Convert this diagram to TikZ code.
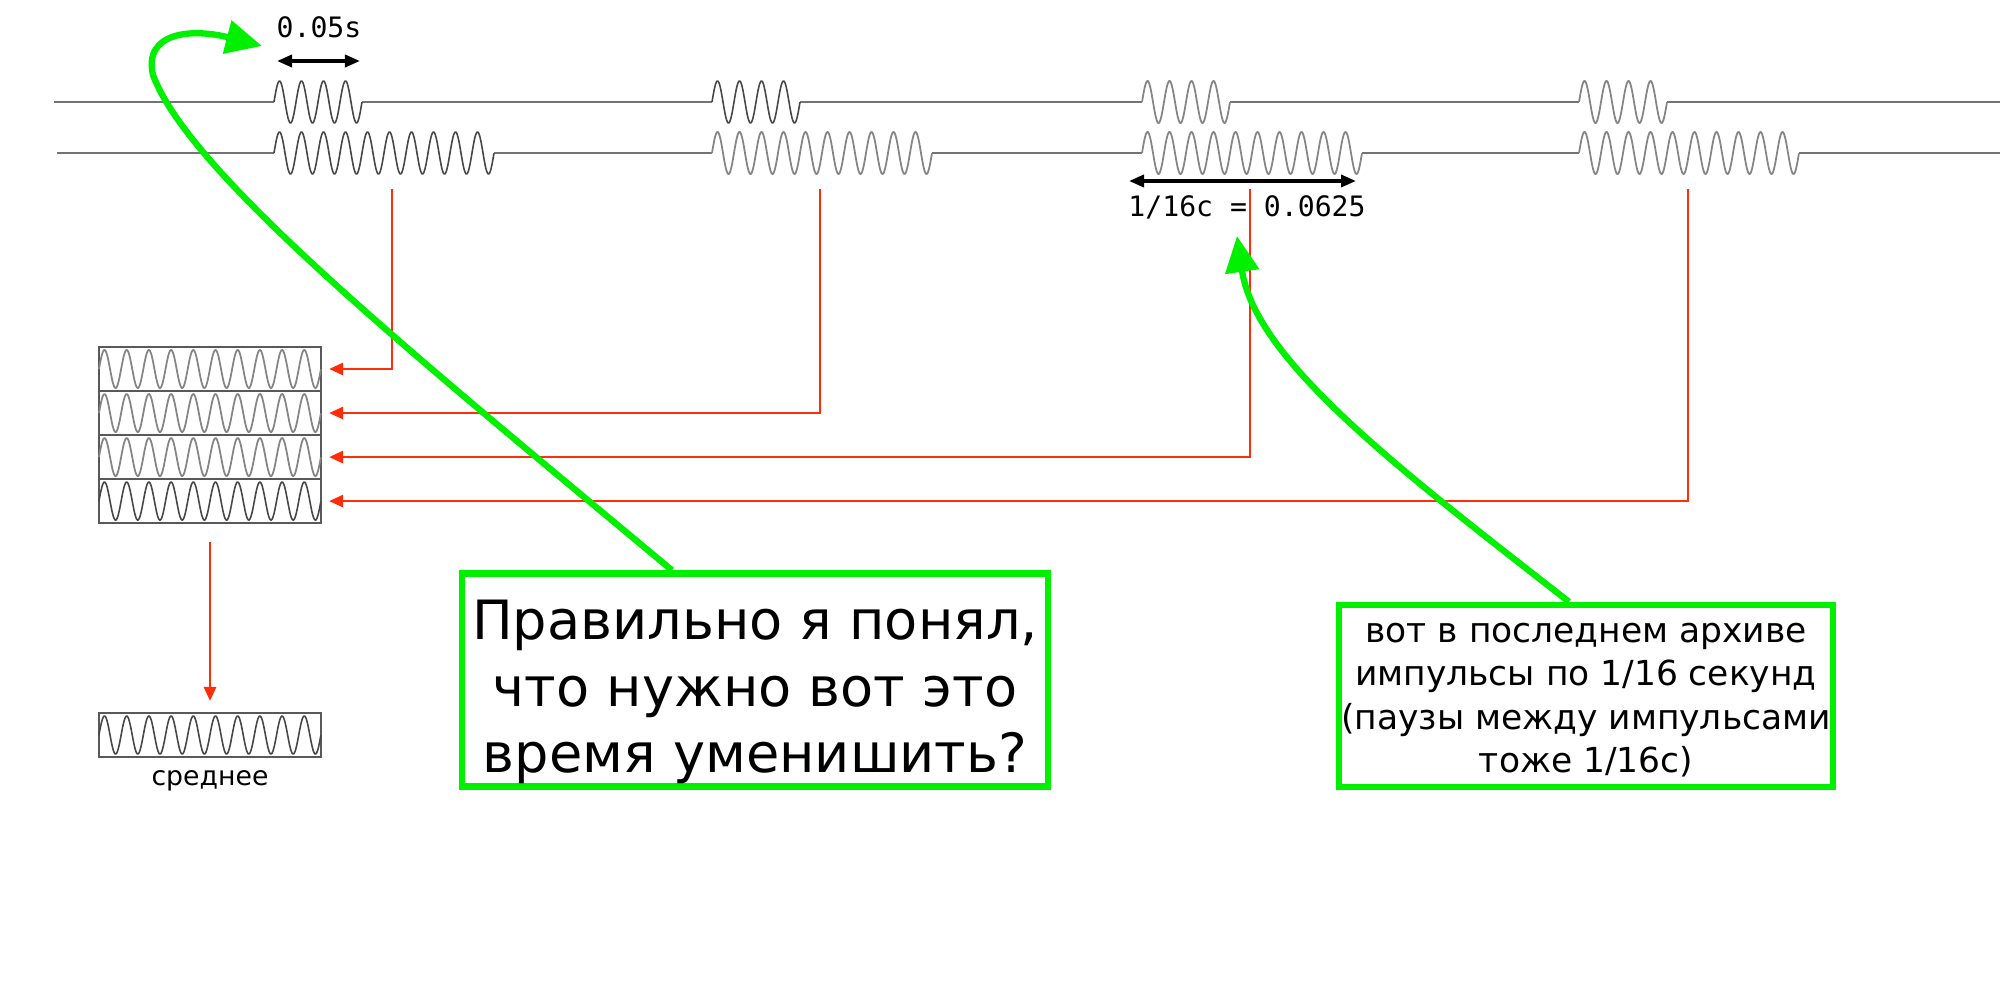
\documentclass[tikz,border=0pt]{standalone}
\usepackage{fontspec}
\setmainfont{DejaVu Sans}
\newfontfamily\monofont{DejaVu Sans Mono}
\usetikzlibrary{arrows.meta,positioning}
\definecolor{notegreen}{RGB}{0,240,0}
\definecolor{feedred}{RGB}{255,45,10}

\begin{document}
\begin{tikzpicture}[x=0.01cm,y=-0.01cm,
  base/.style={black!55,line width=0.6pt},
  wave/.style={black!72,line width=0.45pt},
  wavelight/.style={black!48,line width=0.5pt},
  row/.style={draw=black!65,line width=0.5pt,minimum width=2.22cm,minimum height=0.44cm,inner sep=0pt,outer sep=0pt},
  feed/.style={draw=feedred,line width=0.8pt,-{Triangle[length=0.14cm,width=0.12cm]}},
  span/.style={draw=black,line width=1pt,{Triangle[length=0.15cm,width=0.12cm]}-{Triangle[length=0.15cm,width=0.12cm]}},
  mono/.style={font=\monofont\fontsize{8}{10}\selectfont},
  note/.style={draw=notegreen,line width=1.8pt,inner sep=0pt},
  callout/.style={draw=notegreen,line width=1.8pt,-{Triangle[length=0.36cm,width=0.33cm]}}
]
\fill[white] (0,0) rectangle (2000,1000);
\useasboundingbox (0,0) rectangle (2000,1000);

% верхняя дорожка: импульсы 0.05s
\draw[base] (54,102) -- (274,102) (362,102) -- (712,102) (800,102) -- (1142,102)
  (1230,102) -- (1579,102) (1667,102) -- (2000,102);
\draw[wave] plot[domain=0:4,samples=121] ({274+22*\x},{102-21*sin(360*\x)});
\draw[wave] plot[domain=0:4,samples=121] ({712+22*\x},{102-21*sin(360*\x)});
\draw[wavelight] plot[domain=0:4,samples=121] ({1142+22*\x},{102-21*sin(360*\x)});
\draw[wavelight] plot[domain=0:4,samples=121] ({1579+22*\x},{102-21*sin(360*\x)});

% нижняя дорожка: импульсы 1/16c
\draw[base] (57,153) -- (274,153) (494,153) -- (712,153) (932,153) -- (1142,153)
  (1362,153) -- (1579,153) (1799,153) -- (2000,153);
\draw[wave] plot[domain=0:10,samples=301] ({274+22*\x},{153-21*sin(360*\x)});
\draw[wavelight] plot[domain=0:10,samples=301] ({712+22*\x},{153-21*sin(360*\x)});
\draw[wavelight] plot[domain=0:10,samples=301] ({1142+22*\x},{153-21*sin(360*\x)});
\draw[wavelight] plot[domain=0:10,samples=301] ({1579+22*\x},{153-21*sin(360*\x)});

% размеры
\coordinate (s1) at (277,61);
\coordinate (s2) at (360,61);
\coordinate (s3) at (1129,181);
\coordinate (s4) at (1356,181);
\draw[span] (s1) -- (s2);
\draw[span] (s3) -- (s4);
\node[mono] (lab1) at (319,27) {0.05s};
\node[mono] (lab2) at (1247,207) {1/16c = 0.0625};

% стопка
\node[row] (r1) at (210,369) {};
\node[row,below=0pt of r1] (r2) {};
\node[row,below=0pt of r2] (r3) {};
\node[row,below=0pt of r3] (r4) {};
\draw[wavelight,shift={(r1.west)}] plot[domain=0:10,samples=301] ({22.2*\x},{-19*sin(360*\x)});
\draw[wavelight,shift={(r2.west)}] plot[domain=0:10,samples=301] ({22.2*\x},{-19*sin(360*\x)});
\draw[wavelight,shift={(r3.west)}] plot[domain=0:10,samples=301] ({22.2*\x},{-19*sin(360*\x)});
\draw[wave,shift={(r4.west)}] plot[domain=0:10,samples=301] ({22.2*\x},{-19*sin(360*\x)});

% среднее
\node[row] (avg) at (210,735) {};
\draw[wave,shift={(avg.west)}] plot[domain=0:10,samples=301] ({22.2*\x},{-19*sin(360*\x)});
\node[below=2.5pt of avg,inner sep=1pt,font=\fontsize{7.6}{9}\selectfont] (avglab) {среднее};

% красные стрелки
\coordinate (p1) at (392,189);
\coordinate (p2) at (820,189);
\coordinate (p3) at (1250,189);
\coordinate (p4) at (1688,189);
\draw[feed,shorten >=0.08cm] (p1) |- (r1.east);
\draw[feed,shorten >=0.08cm] (p2) |- (r2.east);
\draw[feed,shorten >=0.08cm] (p3) |- (r3.east);
\draw[feed,shorten >=0.08cm] (p4) |- (r4.east);
\draw[feed,shorten <=0.19cm,shorten >=0.12cm] (r4.south) -- (avg.north);

% заметки
\node[note,minimum width=5.86cm,minimum height=2.13cm] (q1) at (755,680) {};
\node[align=center,inner sep=0pt,font=\fontsize{15.4}{19}\selectfont] (q1text) at ([yshift=-0.12cm]q1.center)
  {Правильно я понял,\\что нужно вот это\\время уменишить?};
\node[note,minimum width=4.94cm,minimum height=1.82cm] (q2) at (1586,696) {};
\node[align=center,inner sep=0pt,font=\fontsize{9.8}{12.3}\selectfont] (q2text) at ([yshift=-0.04cm]q2.center)
  {вот в последнем архиве\\импульсы по 1/16 секунд\\(паузы между импульсами\\тоже 1/16с)};

\coordinate (c1) at ([xshift=-0.83cm]q1.north);
\coordinate (t1) at (262,46);
\draw[callout] (c1) .. controls (420,360) and (190,175) .. (153,75)
  .. controls (143,32) and (192,28) .. (t1);
\coordinate (c2) at ([xshift=-0.17cm]q2.north);
\coordinate (t2) at (1237,236);
\draw[callout] (c2) .. controls (1400,470) and (1255,360) .. (t2);

\end{tikzpicture}
\end{document}
